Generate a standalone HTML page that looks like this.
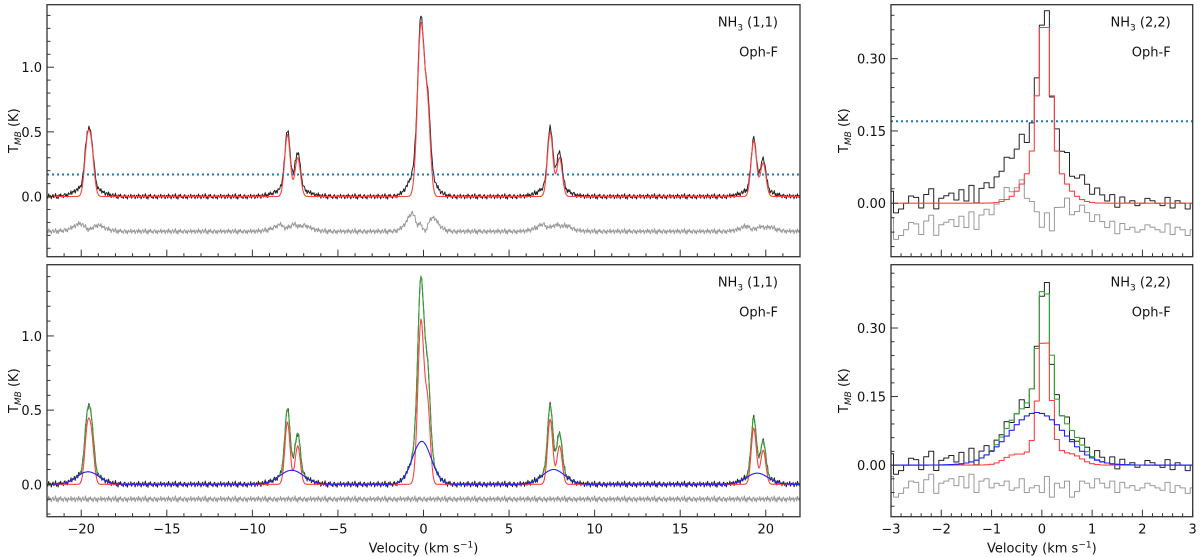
<!DOCTYPE html>
<html><head><meta charset="utf-8">
<style>
html,body{margin:0;padding:0;background:#fff;}
svg{display:block;font-family:"DejaVu Sans","Liberation Sans",sans-serif;}
</style></head>
<body>
<svg id="fig" width="1200" height="557" viewBox="0 0 1200 557" xmlns="http://www.w3.org/2000/svg"></svg>
<script>
// ---------- data ----------
const fit11Centers = [-19.65, -19.4, -7.95, -7.35, -0.15, 0.25, 7.4, 7.95, 19.3, 19.85];
const fit11Amps    = [0.38, 0.32, 0.48, 0.30, 1.32, 0.60, 0.50, 0.30, 0.43, 0.26];
const fit11Sigmas  = [0.16, 0.16, 0.16, 0.16, 0.2, 0.16, 0.16, 0.16, 0.16, 0.16];
const nar11Centers = [-19.65, -19.4, -7.95, -7.35, -0.15, 0.25, 7.4, 7.95, 19.3, 19.85];
const nar11Amps    = [0.34, 0.29, 0.42, 0.26, 1.1, 0.5, 0.44, 0.26, 0.38, 0.23];
const nar11Sigmas  = [0.15, 0.15, 0.15, 0.15, 0.18, 0.15, 0.15, 0.15, 0.15, 0.15];
const brd11Centers = [-19.6, -7.7, -0.1, 7.6, 19.5];
const brd11Amps    = [0.085, 0.095, 0.29, 0.10, 0.075];
const brd11Sigmas  = [0.65, 0.7, 0.55, 0.65, 0.65];
const noise11 = [0.01,-0.012,0.02,-0.005,0.008,-0.018,0.004,0.015,-0.01,0.0,0.022,-0.014,0.006,-0.02,0.012,-0.003,0.017,-0.008,0.003,-0.016,0.009,0.014,-0.011,0.005,-0.019,0.011,0.0,-0.006,0.018,-0.013,0.007,-0.002,0.013,-0.017,0.004];
const thresh11 = 0.17;

const fit22Centers = [0.05, 0.05];
const fit22Amps    = [0.29, 0.10];
const fit22Sigmas  = [0.12, 0.33];
const nar22Centers = [0.05, 0.05, -0.55, 0.6];
const nar22Amps    = [0.23, 0.06, 0.022, 0.022];
const nar22Sigmas  = [0.11, 0.22, 0.2, 0.2];
const brd22Centers = [-0.1];
const brd22Amps    = [0.115];
const brd22Sigmas  = [0.55];
const noise22 = [0.025,-0.02,-0.012,0.0,0.015,0.012,-0.01,0.018,0.03,-0.012,0.01,0.015,0.02,0.005,0.025,0.0,0.03,-0.01,0.015,0.02,0.0,0.01,0.005,0.015,-0.005,0.0,0.02,-0.01,0.0,0.005,-0.01,0.025,-0.02,0.01,0.0,0.015,-0.02,-0.008,0.015,0.01,0.0,0.02,0.01,0.0,0.015,-0.01,0.012,0.0,0.005,-0.005,0.0,0.01,0.005,0.0,-0.005,0.012,-0.01,0.005,0.0,-0.012,0.0];
const thresh22 = 0.17;

const xTicks11 = [-20,-15,-10,-5,0,5,10,15,20];
const yTicks11 = [0.0,0.5,1.0];
const yLabels11 = ["0.0","0.5","1.0"];
const xTicks22 = [-3,-2,-1,0,1,2,3];
const yTicks22 = [0.0,0.15,0.30];
const yLabels22 = ["0.00","0.15","0.30"];

// ---------- helpers ----------
const NS = "http://www.w3.org/2000/svg";
const svg = document.getElementById('fig');
function mk(tag, attrs, parent){ const e=document.createElementNS(NS,tag); for(const k in attrs) e.setAttribute(k,attrs[k]); (parent||svg).appendChild(e); return e; }
function gsum(v, cs, as, ss){ let s=0; for(let i=0;i<cs.length;i++){ const d=(v-cs[i])/ss[i]; s+=as[i]*Math.exp(-0.5*d*d);} return s; }
function fmt(v){ return (v<0?"\u2212":"")+Math.abs(v); }

function panel(P){
  const g = mk('g',{});
  
  
  const sx = v => P.x0 + (v-P.vmin)/(P.vmax-P.vmin)*(P.x1-P.x0);
  const sy = t => P.y1 - (t-P.tmin)/(P.tmax-P.tmin)*(P.y1-P.y0);
  const clip = mk('clipPath',{id:P.name+'-clip'},g);
  mk('rect',{x:P.x0,y:P.y0,width:P.x1-P.x0,height:P.y1-P.y0},clip);
  const plot = mk('g',{'clip-path':'url(#'+P.name+'-clip)'},g);
  function line(vals, color, w, nm, step){
    let d='';
    for(let i=0;i<P.vel.length;i++){
      const X=sx(P.vel[i]), Y=sy(vals[i]);
      if(step){
        const h=(sx(P.vel[1])-sx(P.vel[0]))/2;
        d+=(i?'L':'M')+(X-h).toFixed(1)+' '+Y.toFixed(1)+'L'+(X+h).toFixed(1)+' '+Y.toFixed(1);
      } else d+=(i?'L':'M')+X.toFixed(1)+' '+Y.toFixed(1);
    }
    const p=mk('path',{d:d,fill:'none',stroke:color,'stroke-width':w,'stroke-linejoin':'round'},plot);
    
    
  }
  P.series.forEach(s=>line(s.vals,s.color,s.w,s.name,P.step));
  if(P.thresh!==undefined){
    const t=mk('line',{x1:P.x0,x2:P.x1,y1:sy(P.thresh),y2:sy(P.thresh),stroke:'#1f77b4','stroke-width':2,'stroke-dasharray':'2,3'},plot);
    
    
  }
  mk('rect',{x:P.x0,y:P.y0,width:P.x1-P.x0,height:P.y1-P.y0,fill:'none',stroke:'#333','stroke-width':1.3},g);
  for(let v=P.vmin; v<=P.vmax+1e-9; v+=P.xminor){
    const vv=Math.round(v*1000)/1000;
    const major = P.xticks.some(t=>Math.abs(t-vv)<1e-6);
    mk('line',{x1:sx(vv),x2:sx(vv),y1:P.y1,y2:P.y1-(major?7:3.5),stroke:'#333','stroke-width':1},g);
  }
  if(P.xlabels){
    P.xticks.forEach(t=>{
      const tx=mk('text',{x:sx(t),y:P.y1+17,'font-size':13,'text-anchor':'middle',fill:'#111'},g);
      tx.textContent=fmt(t);
      
      
    });
    const xt=mk('text',{x:(P.x0+P.x1)/2,y:P.y1+36,'font-size':13,'text-anchor':'middle',fill:'#111'},g);
    xt.innerHTML='Velocity (km s<tspan dy="-5" font-size="9">\u22121</tspan><tspan dy="5">)</tspan>';
    
    
  }
  const n0=Math.ceil(P.tmin/P.yminor-1e-6), n1=Math.floor(P.tmax/P.yminor+1e-6);
  for(let n=n0;n<=n1;n++){
    const t=n*P.yminor;
    const major=P.yticks.some(y=>Math.abs(y-t)<1e-6);
    mk('line',{x1:P.x0,x2:P.x0+(major?7:3.5),y1:sy(t),y2:sy(t),stroke:'#333','stroke-width':1},g);
  }
  P.yticks.forEach((t,i)=>{
    const ty=mk('text',{x:P.x0-5,y:sy(t)+5,'font-size':13,'text-anchor':'end',fill:'#111'},g);
    ty.textContent=P.ylabels[i];
    
    
  });
  const yc=(P.y0+P.y1)/2;
  const yt=mk('text',{x:0,y:0,'font-size':13,'text-anchor':'middle',fill:'#111',transform:'translate('+P.ylx+','+yc+') rotate(-90)'},g);
  yt.innerHTML='T<tspan dy="3" font-size="9" font-style="italic">MB</tspan><tspan dy="-3"> (K)</tspan>';
  
  
  const a1=mk('text',{x:P.x1-22,y:P.y0+22,'font-size':13,'text-anchor':'end',fill:'#111'},g);
  a1.innerHTML=P.line;
  
  
  const a2=mk('text',{x:P.x1-22,y:P.y0+52,'font-size':13,'text-anchor':'end',fill:'#111'},g);
  a2.textContent='Oph-F';
  
  
}

// ---------- build spectra ----------
const vel11=[]; for(let v=-22; v<=22.0001; v+=0.05) vel11.push(Math.round(v*100)/100);
const fit11=vel11.map(v=>gsum(v,fit11Centers,fit11Amps,fit11Sigmas));
const nar11=vel11.map(v=>gsum(v,nar11Centers,nar11Amps,nar11Sigmas));
const brd11=vel11.map(v=>gsum(v,brd11Centers,brd11Amps,brd11Sigmas));
const tot11=vel11.map((v,i)=>nar11[i]+brd11[i]);
const dat11=vel11.map((v,i)=>tot11[i]+noise11[i%noise11.length]);
const res11a=dat11.map((d,i)=>d-fit11[i]-0.27);
const res11b=dat11.map((d,i)=>d-tot11[i]-0.10);

const vel22=[]; for(let i=0;i<61;i++) vel22.push(Math.round((-3+i*0.1)*100)/100);
const fit22=vel22.map(v=>gsum(v,fit22Centers,fit22Amps,fit22Sigmas));
const nar22=vel22.map(v=>gsum(v,nar22Centers,nar22Amps,nar22Sigmas));
const brd22=vel22.map(v=>gsum(v,brd22Centers,brd22Amps,brd22Sigmas));
const tot22=vel22.map((v,i)=>nar22[i]+brd22[i]);
const dat22=vel22.map((v,i)=>tot22[i]+noise22[i]);
const res22a=dat22.map((d,i)=>d-fit22[i]-0.055);
const res22b=dat22.map((d,i)=>d-tot22[i]-0.05);

const L11='NH<tspan dy="4" font-size="9">3</tspan><tspan dy="-4"> (1,1)</tspan>';
const L22='NH<tspan dy="4" font-size="9">3</tspan><tspan dy="-4"> (2,2)</tspan>';

panel({name:'panel-11-single',x0:47,x1:800,y0:4.7,y1:256.7,vmin:-22,vmax:22,tmin:-0.465,tmax:1.483,
  vel:vel11,xticks:xTicks11,xminor:1,xlabels:false,yticks:yTicks11,ylabels:yLabels11,yminor:0.1,ylx:18,thresh:thresh11,line:L11,
  series:[{vals:res11a,color:'#999',w:1,name:'residual-line'},{vals:dat11,color:'#222',w:1,name:'observed-spectrum'},{vals:fit11,color:'#ff4040',w:1.1,name:'fit-line'}]});
panel({name:'panel-11-two-comp',x0:47,x1:800,y0:264.7,y1:516.7,vmin:-22,vmax:22,tmin:-0.218,tmax:1.48,
  vel:vel11,xticks:xTicks11,xminor:1,xlabels:true,yticks:yTicks11,ylabels:yLabels11,yminor:0.1,ylx:18,line:L11,
  series:[{vals:res11b,color:'#999',w:1,name:'residual-line'},{vals:dat11,color:'#222',w:1,name:'observed-spectrum'},{vals:tot11,color:'#3aa33a',w:1.1,name:'total-fit-line'},{vals:nar11,color:'#ff4040',w:1.1,name:'narrow-component-line'},{vals:brd11,color:'#2020ff',w:1.1,name:'broad-component-line'}]});
panel({name:'panel-22-single',x0:891,x1:1192.7,y0:4.7,y1:256.7,vmin:-3,vmax:3,tmin:-0.111,tmax:0.412,step:true,
  vel:vel22,xticks:xTicks22,xminor:0.2,xlabels:false,yticks:yTicks22,ylabels:yLabels22,yminor:0.03,ylx:848,thresh:thresh22,line:L22,
  series:[{vals:res22a,color:'#999',w:1,name:'residual-line'},{vals:dat22,color:'#222',w:1,name:'observed-spectrum'},{vals:fit22,color:'#ff4040',w:1.1,name:'fit-line'}]});
panel({name:'panel-22-two-comp',x0:891,x1:1192.7,y0:264.7,y1:516.7,vmin:-3,vmax:3,tmin:-0.113,tmax:0.4386,step:true,
  vel:vel22,xticks:xTicks22,xminor:0.2,xlabels:true,yticks:yTicks22,ylabels:yLabels22,yminor:0.03,ylx:848,line:L22,
  series:[{vals:res22b,color:'#999',w:1,name:'residual-line'},{vals:dat22,color:'#222',w:1,name:'observed-spectrum'},{vals:tot22,color:'#3aa33a',w:1.1,name:'total-fit-line'},{vals:nar22,color:'#ff4040',w:1.1,name:'narrow-component-line'},{vals:brd22,color:'#2020ff',w:1.1,name:'broad-component-line'}]});
</script>
</body></html>
